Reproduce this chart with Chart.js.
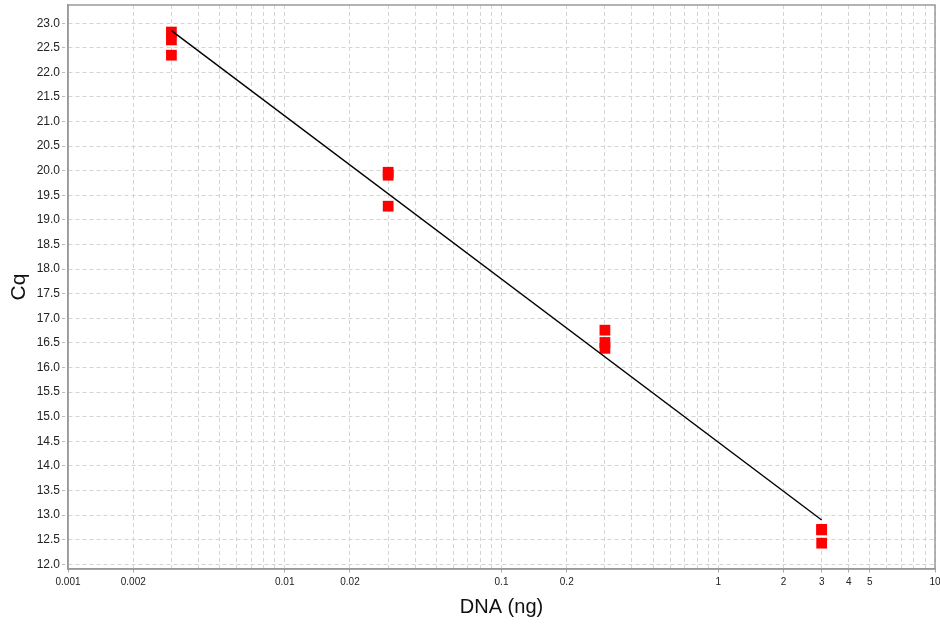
<!DOCTYPE html>
<html>
<head>
<meta charset="utf-8">
<script src="https://cdn.jsdelivr.net/npm/chart.js@4"></script>
<style>
  html, body { margin: 0; padding: 0; background: #fff; }
  #wrap { width: 940px; height: 626px; }
</style>
</head>
<body>
<div id="wrap"><canvas id="grafico" width="940" height="626"></canvas></div>
<script>
// dados
const dnaNg = [0.003, 0.003, 0.003, 0.03, 0.03, 0.03, 0.3, 0.3, 0.3, 3, 3, 3];
const cqValores = [22.82, 22.66, 22.35, 19.97, 19.91, 19.28, 16.76, 16.51, 16.39, 12.71, 12.70, 12.43];

// reta de regressão (extremos)
const retaX = [0.003, 3];
const retaY = [22.85, 12.90];

// marcas dos eixos
const xRotulos = [0.001, 0.002, 0.01, 0.02, 0.1, 0.2, 1, 2, 3, 4, 5, 10];
const yTicks = [12.0, 12.5, 13.0, 13.5, 14.0, 14.5, 15.0, 15.5, 16.0, 16.5, 17.0, 17.5,
  18.0, 18.5, 19.0, 19.5, 20.0, 20.5, 21.0, 21.5, 22.0, 22.5, 23.0];

const xMin = 0.001;
const xMax = 10;
const yMin = 11.905;
const yMax = 23.37;

// todas as linhas de grade do eixo log (1..9 por década)
function gradeLog() {
  const valores = [];
  for (let d = -3; d < 1; d++) {
    for (let m = 1; m < 10; m++) {
      valores.push(+(m * Math.pow(10, d)).toPrecision(3));
    }
  }
  valores.push(10);
  return valores;
}

function temRotulo(v) {
  return xRotulos.some((r) => Math.abs(r - v) < v * 1e-6);
}

const pontos = dnaNg.map((x, i) => ({ x: x, y: cqValores[i] }));
const reta = retaX.map((x, i) => ({ x: x, y: retaY[i] }));

const corGrade = "#d4d4d4";
const corBorda = "#9a9a9a";

const moldura = {
  id: "moldura",
  afterDraw(chart) {
    const a = chart.chartArea;
    const ctx = chart.ctx;
    ctx.save();
    ctx.strokeStyle = corBorda;
    ctx.lineWidth = 1.5;
    ctx.strokeRect(a.left, a.top, a.right - a.left, a.bottom - a.top);
    ctx.restore();
  },
};

new Chart(document.getElementById("grafico"), {
  type: "scatter",
  data: {
    datasets: [
      {
        label: "Cq",
        data: pontos,
        pointStyle: "rect",
        pointRadius: 7.6,
        pointHoverRadius: 7.6,
        backgroundColor: "#ff0000",
        borderColor: "#ff0000",
        borderWidth: 0,
        order: 2,
      },
      {
        label: "Regressão",
        type: "line",
        data: reta,
        borderColor: "#000000",
        borderWidth: 1.4,
        pointRadius: 0,
        fill: false,
        order: 1,
      },
    ],
  },
  options: {
    responsive: false,
    animation: false,
    layout: { autoPadding: false, padding: { top: 5, right: 5, left: 0, bottom: 0 } },
    plugins: {
      legend: { display: false },
      tooltip: { enabled: false },
    },
    scales: {
      x: {
        type: "logarithmic",
        min: xMin,
        max: xMax,
        afterBuildTicks(scale) {
          scale.ticks = gradeLog().map((v) => ({ value: v }));
        },
        afterFit(scale) {
          scale.height = 57;
          scale.paddingLeft = 0;
          scale.paddingRight = 0;
        },
        ticks: {
          autoSkip: false,
          maxRotation: 0,
          padding: 2,
          color: "#222",
          font: { size: 10, family: "Liberation Sans" },
          callback: function (v) {
            return temRotulo(v) ? String(v) : "";
          },
        },
        grid: {
          color: corGrade,
          lineWidth: 1,
          tickLength: 5,
          tickColor: (c) => (c.tick && temRotulo(c.tick.value) ? "#aaaaaa" : "rgba(0,0,0,0)"),
          tickBorderDash: [3, 2],
        },
        border: { color: corBorda, width: 1.5, dash: [4, 3] },
        title: {
          display: true,
          text: "DNA (ng)",
          color: "#111",
          font: { size: 20, family: "Liberation Sans" },
          padding: { top: 0, bottom: 7 },
        },
      },
      y: {
        type: "linear",
        min: yMin,
        max: yMax,
        afterBuildTicks(scale) {
          scale.ticks = yTicks.map((v) => ({ value: v }));
        },
        afterFit(scale) {
          scale.width = 68;
          scale.paddingTop = 0;
          scale.paddingBottom = 0;
        },
        ticks: {
          autoSkip: false,
          padding: 2,
          color: "#222",
          font: { size: 12, family: "Liberation Sans" },
          callback: (v) => Number(v).toFixed(1),
        },
        grid: {
          color: corGrade,
          lineWidth: 1,
          tickLength: 6,
          tickColor: "#bbbbbb",
          tickBorderDash: [3, 2],
        },
        border: { color: corBorda, width: 1.5, dash: [4, 3] },
        title: {
          display: true,
          text: "Cq",
          color: "#111",
          font: { size: 21, family: "Liberation Sans" },
          padding: { top: 7, bottom: 0 },
        },
      },
    },
  },
  plugins: [moldura],
});
</script>
</body>
</html>
